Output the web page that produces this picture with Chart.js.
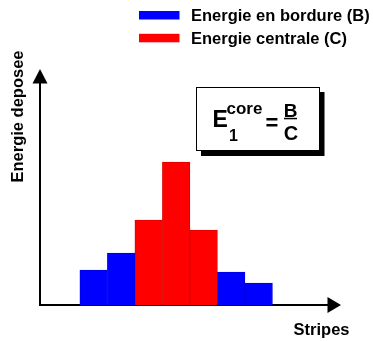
<!DOCTYPE html>
<html><head><meta charset="utf-8">
<script src="https://cdn.jsdelivr.net/npm/chart.js@4.4.0/dist/chart.umd.min.js"></script>
<style>html,body{margin:0;padding:0;background:#fff;}canvas{display:block;}</style>
</head><body>
<canvas id="c" width="373" height="341"></canvas>
<script>
const borderLabel = 'Energie en bordure (B)';
const centralLabel = 'Energie centrale (C)';
const borderStripes = [1, 2, 6, 7];
const borderEnergy = [3.5, 5.2, 3.3, 2.2];
const centralStripes = [3, 4, 5];
const centralEnergy = [8.5, 14.3, 7.5];
const xTitle = 'Stripes';
const yTitle = 'Energie deposee';
const formulaParts = ['E', 'core', '1', '=', 'B', 'C'];

const FONT = "'Liberation Sans', Arial, Helvetica, sans-serif";

const deco = {
  id: 'deco',
  afterDraw(chart) {
    const ctx = chart.ctx, a = chart.chartArea;
    ctx.save();
    ctx.fillStyle = '#000';
    // arrowheads
    ctx.beginPath();
    ctx.moveTo(a.left - 7.5, a.top + 0.5);
    ctx.lineTo(a.left + 7.5, a.top + 0.5);
    ctx.lineTo(a.left, a.top - 14);
    ctx.closePath(); ctx.fill();
    ctx.beginPath();
    ctx.moveTo(a.right - 0.5, a.bottom - 8);
    ctx.lineTo(a.right - 0.5, a.bottom + 8);
    ctx.lineTo(a.right + 13, a.bottom);
    ctx.closePath(); ctx.fill();
    // axis titles
    ctx.font = 'bold 16.5px ' + FONT;
    ctx.textBaseline = 'alphabetic';
    ctx.textAlign = 'right';
    ctx.fillText(xTitle, 349.5, 334.5);
    ctx.save();
    ctx.translate(22.5, 116.5);
    ctx.rotate(-Math.PI / 2);
    ctx.textAlign = 'center';
    ctx.fillText(yTitle, 0, 0);
    ctx.restore();
    // legend
    ctx.textAlign = 'left';
    chart.data.datasets.forEach((ds, i) => {
      const cy = 15 + i * 22.8;
      ctx.fillStyle = ds.backgroundColor;
      ctx.fillRect(139, cy - 4, 40.5, 8.5);
      ctx.fillStyle = '#000';
      ctx.fillText(ds.label, 191, cy + 6.3);
    });
    // formula box
    ctx.fillStyle = '#000';
    ctx.fillRect(201, 92, 123.5, 64);
    ctx.fillStyle = '#fff';
    ctx.fillRect(196, 87, 123.5, 64);
    ctx.strokeStyle = '#000';
    ctx.lineWidth = 1;
    ctx.strokeRect(196.5, 87.5, 123, 63);
    ctx.fillStyle = '#000';
    ctx.textAlign = 'left';
    ctx.font = 'bold 23px ' + FONT; ctx.fillText(formulaParts[0], 212.5, 126.5);
    ctx.font = 'bold 17px ' + FONT; ctx.fillText(formulaParts[1], 226.5, 114);
    ctx.font = 'bold 16px ' + FONT; ctx.fillText(formulaParts[2], 229, 140.5);
    ctx.textAlign = 'center';
    ctx.font = 'bold 22px ' + FONT; ctx.fillText(formulaParts[3], 272, 129.5);
    ctx.font = 'bold 19px ' + FONT; ctx.fillText(formulaParts[4], 290.5, 116.5);
    ctx.fillRect(284, 117.8, 13, 1.5);
    ctx.font = 'bold 20px ' + FONT; ctx.fillText(formulaParts[5], 291, 139.5);
    ctx.restore();
  }
};

new Chart(document.getElementById('c'), {
  type: 'bar',
  data: {
    datasets: [
      {
        label: borderLabel,
        data: borderStripes.map((x, i) => ({ x: x, y: borderEnergy[i] })),
        backgroundColor: '#0000FF',
        borderColor: '#0000E0',
        borderWidth: 1,
        grouped: false,
        barPercentage: 1,
        categoryPercentage: 1
      },
      {
        label: centralLabel,
        data: centralStripes.map((x, i) => ({ x: x, y: centralEnergy[i] })),
        backgroundColor: '#FF0000',
        borderColor: '#E00000',
        borderWidth: 1,
        grouped: false,
        barPercentage: 1,
        categoryPercentage: 1
      }
    ]
  },
  options: {
    responsive: false,
    animation: false,
    devicePixelRatio: 1,
    layout: { padding: { left: 40, top: 83, right: 45, bottom: 36 } },
    plugins: { legend: { display: false }, tooltip: { enabled: false } },
    scales: {
      x: {
        type: 'linear', min: -0.95, max: 9.52, offset: false,
        ticks: { display: false },
        grid: { display: false, drawTicks: false },
        border: { display: true, color: '#000', width: 2 }
      },
      y: {
        type: 'linear', min: 0, max: 22.2,
        ticks: { display: false },
        grid: { display: false, drawTicks: false },
        border: { display: true, color: '#000', width: 2 }
      }
    }
  },
  plugins: [deco]
});
</script>
</body></html>
